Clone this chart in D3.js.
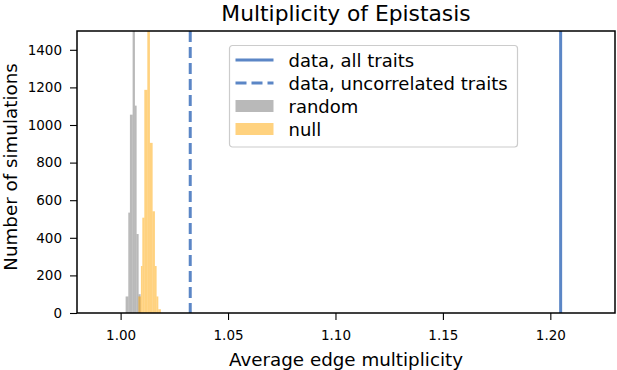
<!DOCTYPE html>
<html>
<head>
<meta charset="utf-8">
<script src="https://cdn.jsdelivr.net/npm/d3@7"></script>
<style>
  body { margin: 0; background: #fff; }
  svg text { font-family: "DejaVu Sans", sans-serif; fill: #000; }
</style>
</head>
<body>
<div id="chart"></div>
<script>
// histogram bin edges (average edge multiplicity) and counts
const randomEdges = [1.00233, 1.00358, 1.00433, 1.00559, 1.00666, 1.00745, 1.00838, 1.00931];
const randomCounts = [88, 534, 1055, 1900, 1103, 420, 100];
const nullEdges = [1.00824, 1.00945, 1.01010, 1.01103, 1.01243, 1.01364, 1.01490, 1.01597, 1.01676, 1.01755, 1.01876];
const nullCounts = [88, 250, 507, 1187, 1800, 905, 541, 250, 88, 20];
const dataAll = 1.2048;
const dataUncorrelated = 1.0324;
const xTicks = [1.00, 1.05, 1.10, 1.15, 1.20];
const yTicks = [0, 200, 400, 600, 800, 1000, 1200, 1400];

const W = 617, H = 370;
const MARGIN = { TOP: 31, BOTTOM: 57, LEFT: 77, RIGHT: 2 };
const WIDTH = W - MARGIN.LEFT - MARGIN.RIGHT;
const HEIGHT = H - MARGIN.TOP - MARGIN.BOTTOM;
const BLUE = "#5b86c6";

const svg = d3.select("#chart").append("svg")
    .attr("width", W)
    .attr("height", H);

const g = svg.append("g")
    .attr("transform", `translate(${MARGIN.LEFT}, ${MARGIN.TOP})`);

const x = d3.scaleLinear().domain([0.9797, 1.2301]).range([0, WIDTH]);
const y = d3.scaleLinear().domain([0, 1500]).range([HEIGHT, 0]);

g.append("clipPath").attr("id", "clip")
  .append("rect").attr("width", WIDTH).attr("height", HEIGHT);

const plot = g.append("g").attr("clip-path", "url(#clip)");

function bins(edges, counts) {
  return counts.map((c, i) => ({ x0: edges[i], x1: edges[i + 1], n: c }));
}

plot.selectAll("rect.random")
  .data(bins(randomEdges, randomCounts))
  .enter().append("rect")
    .attr("class", "random")
    .attr("x", d => x(d.x0))
    .attr("width", d => x(d.x1) - x(d.x0))
    .attr("y", d => y(d.n))
    .attr("height", d => HEIGHT - y(d.n))
    .attr("fill", "#808080")
    .attr("fill-opacity", 0.55);

plot.selectAll("rect.null")
  .data(bins(nullEdges, nullCounts))
  .enter().append("rect")
    .attr("class", "null")
    .attr("x", d => x(d.x0))
    .attr("width", d => x(d.x1) - x(d.x0))
    .attr("y", d => y(d.n))
    .attr("height", d => HEIGHT - y(d.n))
    .attr("fill", "#ffa500")
    .attr("fill-opacity", 0.5);

plot.append("line")
    .attr("x1", x(dataAll)).attr("x2", x(dataAll))
    .attr("y1", 0).attr("y2", HEIGHT)
    .attr("stroke", BLUE).attr("stroke-width", 3);

plot.append("line")
    .attr("x1", x(dataUncorrelated)).attr("x2", x(dataUncorrelated))
    .attr("y1", 0).attr("y2", HEIGHT)
    .attr("stroke", BLUE).attr("stroke-width", 3)
    .attr("stroke-dasharray", "11,5");

// axes
const xAxis = g.append("g")
    .attr("transform", `translate(0, ${HEIGHT})`)
    .call(d3.axisBottom(x).tickValues(xTicks).tickFormat(d3.format(".2f")).tickSize(7).tickPadding(10));
const yAxis = g.append("g")
    .call(d3.axisLeft(y).tickValues(yTicks).tickFormat(d3.format("d")).tickSize(7).tickPadding(8));

[xAxis, yAxis].forEach(a => {
  a.select(".domain").remove();
  a.selectAll("line").attr("stroke", "#000").attr("stroke-width", 1.1);
  a.selectAll("text").style("font-size", "13.5px").style("font-family", "DejaVu Sans");
});

g.append("rect")
    .attr("width", WIDTH).attr("height", HEIGHT)
    .attr("fill", "none").attr("stroke", "#000").attr("stroke-width", 1.5);

// labels
svg.append("text")
    .attr("x", MARGIN.LEFT + WIDTH / 2).attr("y", 20.5)
    .attr("text-anchor", "middle")
    .style("font-size", "21.8px")
    .text("Multiplicity of Epistasis");

svg.append("text")
    .attr("x", MARGIN.LEFT + WIDTH / 2).attr("y", 366)
    .attr("text-anchor", "middle")
    .style("font-size", "18.3px")
    .text("Average edge multiplicity");

svg.append("text")
    .attr("transform", `translate(16.5, 167) rotate(-90)`)
    .attr("text-anchor", "middle")
    .style("font-size", "18.3px")
    .text("Number of simulations");

// legend
const legend = svg.append("g").attr("transform", "translate(229.5, 45.5)");
legend.append("rect")
    .attr("width", 288).attr("height", 101.5)
    .attr("rx", 3)
    .attr("fill", "#fff").attr("fill-opacity", 0.8)
    .attr("stroke", "#cccccc").attr("stroke-width", 1.2);

const items = [
  { label: "data, all traits", type: "line" },
  { label: "data, uncorrelated traits", type: "dash" },
  { label: "random", type: "random" },
  { label: "null", type: "null" }
];

items.forEach((it, i) => {
  const cy = 14.5 + i * 23;
  if (it.type === "line" || it.type === "dash") {
    legend.append("line")
      .attr("x1", 6).attr("x2", 44).attr("y1", cy).attr("y2", cy)
      .attr("stroke", BLUE).attr("stroke-width", 3)
      .attr("stroke-dasharray", it.type === "dash" ? "11,5" : null);
  } else {
    legend.append("rect")
      .attr("x", 6).attr("y", cy - 6).attr("width", 38).attr("height", 12)
      .attr("fill", it.type === "random" ? "#808080" : "#ffa500")
      .attr("fill-opacity", it.type === "random" ? 0.55 : 0.5);
  }
  legend.append("text")
    .attr("x", 59).attr("y", cy + 6.5)
    .style("font-size", "18px")
    .text(it.label);
});
</script>
</body>
</html>
